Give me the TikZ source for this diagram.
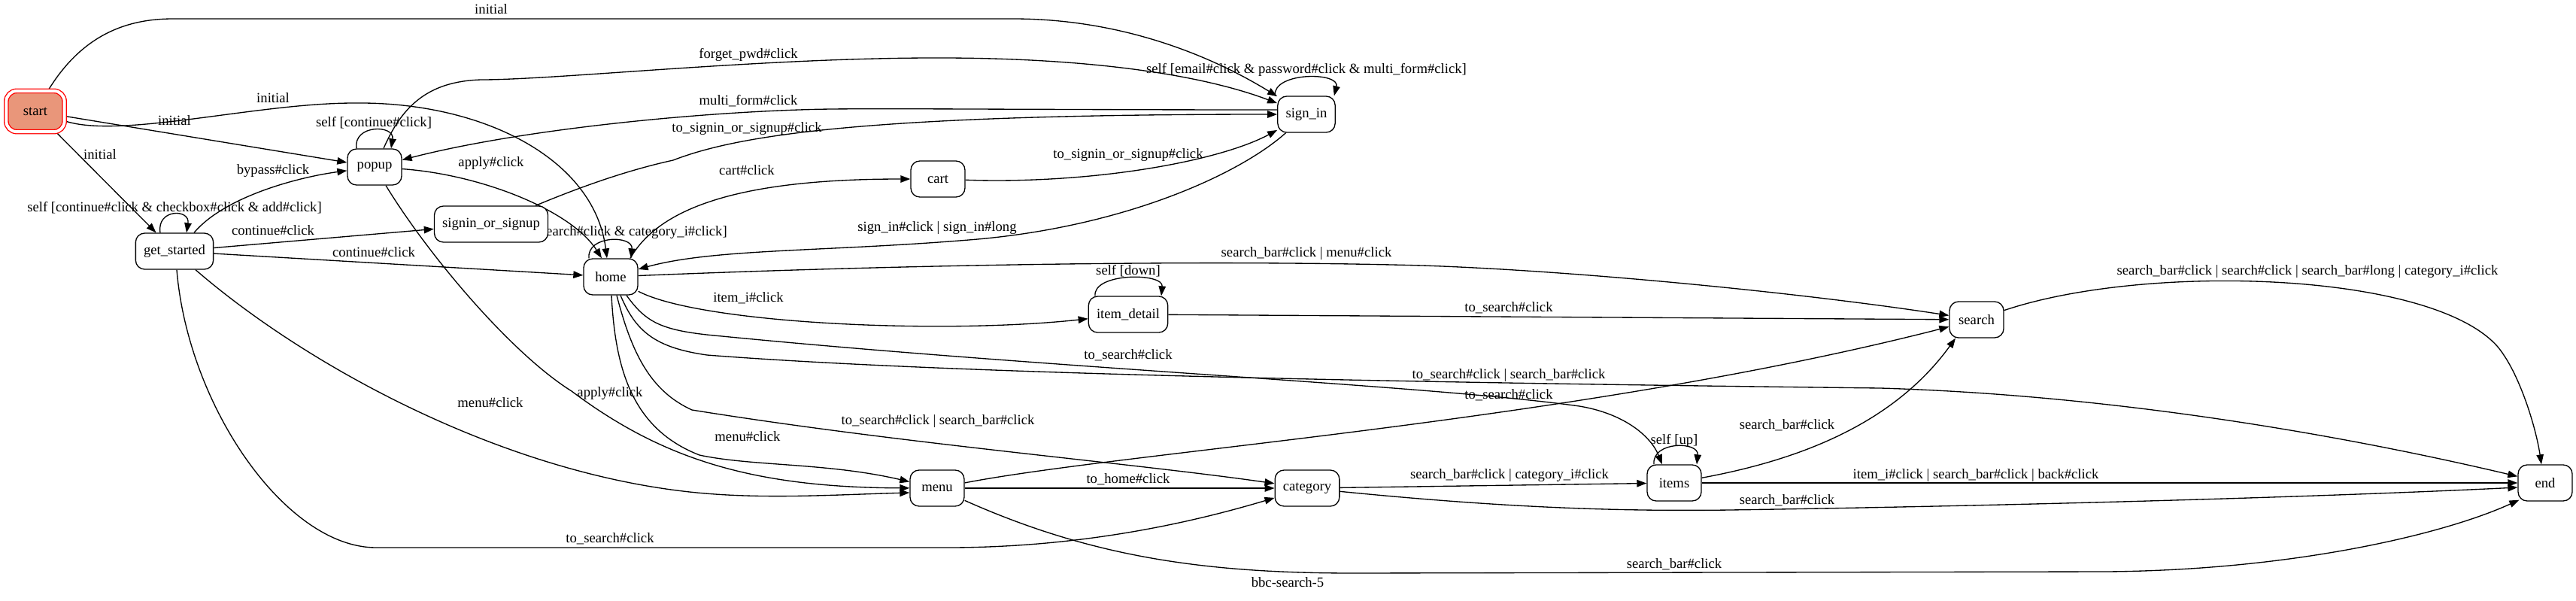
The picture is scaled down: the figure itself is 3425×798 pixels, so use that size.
\documentclass[tikz,border=0pt]{standalone}
\usepackage{fontspec}
\setmainfont{Liberation Serif}
\usetikzlibrary{arrows.meta,backgrounds}
\definecolor{startfill}{HTML}{E9967A}

\begin{document}
\begin{tikzpicture}[x=1pt,y=-1pt,
    font=\fontsize{18.67}{22}\selectfont,
    stbox/.style={draw,fill=white,rounded corners=12pt,line width=1.33pt,
      minimum width=72pt,minimum height=48pt,inner xsep=10.7pt},
    startbox/.style={stbox,draw=red,fill=startfill,double=white,double distance=4pt,
      minimum width=77.3pt,minimum height=54.3pt,rounded corners=14pt},
    trans/.style={line width=1.33pt,-{Triangle[length=13pt,width=9.5pt]}},
    evlabel/.style={inner sep=0pt,text height=12.5pt,text depth=3.5pt}]
        \useasboundingbox (0,0) rectangle (3425,798);

        % screens
        \node[startbox] (start) at (47,148) {start};
        \node[stbox] (getstarted) at (232,334) {get\_started};
        \node[stbox] (popup) at (498,222) {popup};
        \node[stbox] (signinorsignup) at (653,298) {signin\_or\_signup};
        \node[stbox] (home) at (812,368) {home};
        \node[stbox] (cart) at (1247,238) {cart};
        \node[stbox] (menu) at (1246,649) {menu};
        \node[stbox] (itemdetail) at (1500,418) {item\_detail};
        \node[stbox] (signin) at (1737,152) {sign\_in};
        \node[stbox] (category) at (1738,649) {category};
        \node[stbox] (items) at (2226,642) {items};
        \node[stbox] (search) at (2628,425) {search};
        \node[stbox] (end) at (3384,642) {end};

        \begin{scope}[on background layer]
        % from start
        \draw[trans] (start) .. controls (110,45) and (170,25) .. (230,25) -- (1347,25)
            .. controls (1500,25) and (1620,80) .. (signin);
        \draw[trans] (start) .. controls (160,185) and (340,137) .. (471,137)
            .. controls (640,135) and (790,210) .. ([xshift=-5pt]home.north);
        \draw[trans] (start) -- (popup);
        \draw[trans] (start) -- (getstarted);
        \node[evlabel] (l-init-signin) at (653,14) {initial};
        \node[evlabel] (l-init-home) at (363,132) {initial};
        \node[evlabel] (l-init-popup) at (232,162) {initial};
        \node[evlabel] (l-init-started) at (133,207) {initial};

        % from get_started
        \draw[trans] ([xshift=-19pt]getstarted.north) .. controls +(-5pt,32pt) and +(5pt,32pt) .. ([xshift=16pt]getstarted.north);
        \draw[trans] ([xshift=26pt]getstarted.north) .. controls (300,260) and (400,235) .. (popup);
        \draw[trans] (getstarted) -- (signinorsignup);
        \draw[trans] (getstarted) -- (home);
        \draw[trans] ([xshift=28pt]getstarted.south) .. controls (400,480) and (650,620) .. (900,652)
            .. controls (1000,665) and (1100,658) .. ([yshift=-6pt]menu.west);
        \draw[trans] ([xshift=3pt]getstarted.south) .. controls (250,540) and (380,728) .. (500,728) -- (1260,728)
            .. controls (1450,728) and (1600,690) .. (category);
        \node[evlabel] (l-started-self) at (232,277) {self [continue\#click \& checkbox\#click \& add\#click]};
        \node[evlabel] (l-bypass) at (363,227) {bypass\#click};
        \node[evlabel] (l-cont-sos) at (363,308) {continue\#click};
        \node[evlabel] (l-cont-home) at (497,337) {continue\#click};
        \node[evlabel] (l-started-menu) at (652,537) {menu\#click};
        \node[evlabel] (l-started-cat) at (811,717) {to\_search\#click};

        % from popup
        \draw[trans] ([xshift=-24pt]popup.north) .. controls +(-5pt,32pt) and +(5pt,32pt) .. ([xshift=22pt]popup.north);
        \draw[trans] (popup) .. controls (640,232) and (760,280) .. ([xshift=-12pt]home.north);
        \draw[trans] (popup) .. controls (570,340) and (680,470) .. (760,520)
            .. controls (880,610) and (1000,648) .. (menu);
        \draw[trans] ([xshift=12pt]popup.north) .. controls (535,140) and (570,108) .. (640,106)
            .. controls (740,106) and (1000,78) .. (1233,77) .. controls (1450,76) and (1600,100) .. (signin);
        \node[evlabel] (l-popup-self) at (497,164) {self [continue\#click]};
        \node[evlabel] (l-apply-home) at (653,217) {apply\#click};
        \node[evlabel] (l-apply-menu) at (811,523) {apply\#click};
        \node[evlabel] (l-forget) at (995,73) {forget\_pwd\#click};

        % from sign_in, signin_or_signup, cart
        \draw[trans] ([xshift=-3pt]signin.north west) .. controls +(-3pt,32pt) and +(8pt,32pt) .. ([xshift=-2pt]signin.north east);
        \draw[trans] ([yshift=6pt]signin.west) .. controls (1400,146) and (1200,144) .. (1105,145)
            .. controls (950,147) and (700,170) .. (popup);
        \draw[trans] (signin) .. controls (1650,230) and (1500,300) .. (1300,318)
            .. controls (1100,335) and (950,330) .. (home);
        \draw[trans] (signinorsignup) .. controls (780,245) and (840,225) .. (895,213)
            .. controls (980,180) and (1150,152) .. (signin);
        \draw[trans] (cart) .. controls (1450,245) and (1620,215) .. (signin);
        \node[evlabel] (l-signin-self) at (1737,93) {self [email\#click \& password\#click \& multi\_form\#click]};
        \node[evlabel] (l-multi) at (995,135) {multi\_form\#click};
        \node[evlabel] (l-signin-home) at (1246,303) {sign\_in\#click \textbar{} sign\_in\#long};
        \node[evlabel] (l-sos-signin) at (993,171) {to\_signin\_or\_signup\#click};
        \node[evlabel] (l-cart-signin) at (1500,206) {to\_signin\_or\_signup\#click};

        % from home
        \draw[trans] ([xshift=-29pt]home.north) .. controls +(-3pt,31pt) and +(3pt,31pt) .. ([xshift=27pt]home.north);
        \draw[trans] ([xshift=26pt]home.north) .. controls (880,270) and (1000,238) .. (cart);
        \draw[trans] (home) .. controls (1200,352) and (1600,345) .. (1891,353)
            .. controls (2100,360) and (2400,390) .. (search);
        \draw[trans] (home) .. controls (930,430) and (1250,445) .. (itemdetail);
        \draw[trans] ([xshift=21pt]home.south) .. controls (860,430) and (880,440) .. (960,447)
            .. controls (1400,490) and (1900,512) .. (2100,540)
            .. controls (2160,550) and (2195,580) .. ([xshift=-16pt]items.north);
        \draw[trans] ([xshift=13pt]home.south) .. controls (845,440) and (870,462) .. (940,472)
            .. controls (1300,500) and (2000,510) .. (2500,516)
            .. controls (2800,525) and (3100,575) .. (end);
        \draw[trans] ([xshift=8pt]home.south) .. controls (840,470) and (865,520) .. (920,545)
            .. controls (1200,590) and (1500,615) .. (category);
        \draw[trans] ([xshift=1pt]home.south) .. controls (818,490) and (840,570) .. (930,605)
            .. controls (1000,620) and (1100,615) .. (menu);
        \node[evlabel] (l-home-self) at (812,309) {self [to\_search\#click \& category\_i\#click]};
        \node[evlabel] (l-cart) at (993,228) {cart\#click};
        \node[evlabel] (l-home-search) at (1737,337) {search\_bar\#click \textbar{} menu\#click};
        \node[evlabel] (l-item) at (995,397) {item\_i\#click};
        \node[evlabel] (l-home-items) at (1500,473) {to\_search\#click};
        \node[evlabel] (l-home-end) at (2006,499) {to\_search\#click \textbar{} search\_bar\#click};
        \node[evlabel] (l-home-cat) at (1247,560) {to\_search\#click \textbar{} search\_bar\#click};
        \node[evlabel] (l-home-menu) at (994,582) {menu\#click};

        % from item_detail, menu
        \draw[trans] ([xshift=-44pt]itemdetail.north) .. controls +(-3pt,31pt) and +(3pt,31pt) .. ([xshift=44pt]itemdetail.north);
        \draw[trans] (itemdetail) -- (search);
        \draw[trans] (menu) -- (category);
        \draw[trans] (menu) .. controls (1500,600) and (2100,560) .. (search);
        \draw[trans] (menu) .. controls (1450,740) and (1600,762) .. (1800,762) -- (2800,760)
            .. controls (3050,758) and (3250,710) .. ([shift={(2pt,2pt)}]end.south west);
        \node[evlabel] (l-detail-self) at (1500,361) {self [down]};
        \node[evlabel] (l-detail-search) at (2006,410) {to\_search\#click};
        \node[evlabel] (l-menu-cat) at (1500,638) {to\_home\#click};
        \node[evlabel] (l-menu-search) at (2006,526) {to\_search\#click};
        \node[evlabel] (l-menu-end) at (2226,751) {search\_bar\#click};

        % from category, items, search
        \draw[trans] (category) -- (items);
        \draw[trans] (category) .. controls (2000,675) and (2150,680) .. (2300,678)
            .. controls (2700,672) and (3100,660) .. ([yshift=-6pt]end.west);
        \draw[trans] ([xshift=-27pt]items.north) .. controls +(-3pt,31pt) and +(3pt,31pt) .. ([xshift=30pt]items.north);
        \draw[trans] (items) .. controls (2400,610) and (2520,560) .. ([xshift=-28pt]search.south);
        \draw[trans] (items) -- (end);
        \draw[trans] (search) .. controls (2850,350) and (3230,360) .. (3320,460)
            .. controls (3350,495) and (3372,570) .. ([xshift=-5pt]end.north);
        \node[evlabel] (l-cat-items) at (2007,632) {search\_bar\#click \textbar{} category\_i\#click};
        \node[evlabel] (l-cat-end) at (2376,666) {search\_bar\#click};
        \node[evlabel] (l-items-self) at (2226,586) {self [up]};
        \node[evlabel] (l-items-search) at (2376,566) {search\_bar\#click};
        \node[evlabel] (l-items-end) at (2627,632) {item\_i\#click \textbar{} search\_bar\#click \textbar{} back\#click};
        \node[evlabel] (l-search-end) at (3068,361) {search\_bar\#click \textbar{} search\#click \textbar{} search\_bar\#long \textbar{} category\_i\#click};
        \end{scope}

        % title
        \node[evlabel] (title) at (1712,776) {bbc-search-5};
    \end{tikzpicture}
\end{document}
